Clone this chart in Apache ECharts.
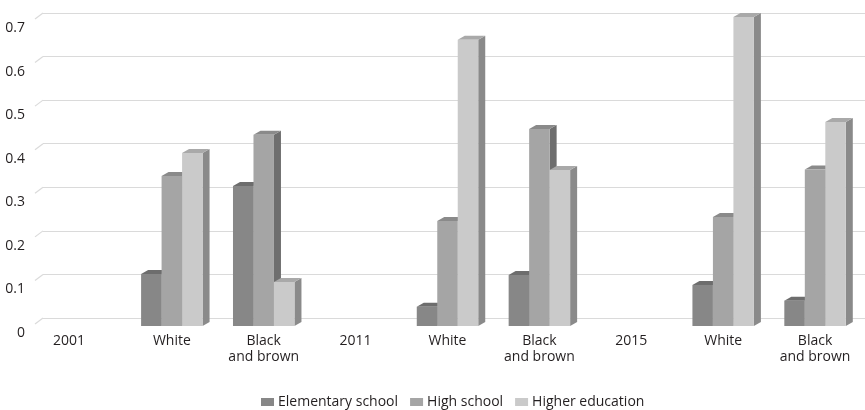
<!DOCTYPE html>
<html>
<head>
<meta charset="utf-8">
<script src="https://cdn.jsdelivr.net/npm/echarts@6/dist/echarts.min.js"></script>
<style>html,body{margin:0;padding:0;background:#fff;}#c{width:865px;height:410px;}</style>
</head>
<body>
<div id="c"></div>
<script>
// ---- data ----
const categories = ['2001', 'White', 'Black\nand brown', '2011', 'White', 'Black\nand brown', '2015', 'White', 'Black\nand brown'];
const seriesNames = ['Elementary school', 'High school', 'Higher education'];
const elementary = [null, 0.110, 0.312, null, 0.035, 0.108, null, 0.085, 0.049];
const highSchool = [null, 0.335, 0.430, null, 0.232, 0.443, null, 0.241, 0.350];
const higherEd   = [null, 0.388, 0.092, null, 0.648, 0.349, null, 0.700, 0.459];
const yTicks = [0, 0.1, 0.2, 0.3, 0.4, 0.5, 0.6, 0.7];

// ---- styles ----
const FONT = 'Open Sans';
const TXT = '#231f20';
const FS = 14;
const faces = [
  { front: '#878787', top: '#6d6d6d', side: '#5f5f5f' },
  { front: '#a5a5a5', top: '#8a8a8a', side: '#6e6e6e' },
  { front: '#cacaca', top: '#a9a9a9', side: '#8a8a8a' }
];
const DX = 7, DY = 4;

function toData(arr) {
  const out = [];
  arr.forEach((v, i) => { if (v != null) out.push([i, v]); });
  return out;
}

function barSeries(name, arr, s) {
  const f = faces[s];
  return {
    name: name,
    type: 'custom',
    xAxisIndex: 0, yAxisIndex: 0,
    itemStyle: { color: f.front },
    data: toData(arr),
    z: 2 + s,
    renderItem: function (params, api) {
      const idx = api.value(0), v = api.value(1);
      const top = api.coord([idx, v]);
      const base = api.coord([idx, 0]);
      const band = api.size([1, 0])[0];
      const bw = band * 0.223;
      const x0 = top[0] - 1.5 * bw + s * bw;
      const yT = top[1], yB = base[1] + 4;
      return {
        type: 'group',
        children: [
          { type: 'polygon', shape: { points: [[x0 + bw, yT], [x0 + bw + DX, yT - DY], [x0 + bw + DX, yB - DY], [x0 + bw, yB]] }, style: { fill: f.side } },
          { type: 'polygon', shape: { points: [[x0, yT], [x0 + DX, yT - DY], [x0 + bw + DX, yT - DY], [x0 + bw, yT]] }, style: { fill: f.top } },
          { type: 'rect', shape: { x: x0, y: yT, width: bw, height: yB - yT }, style: { fill: f.front } }
        ]
      };
    }
  };
}

const chart = echarts.init(document.getElementById('c'), null, { renderer: 'canvas' });
chart.setOption({
  animation: false,
  backgroundColor: '#ffffff',
  textStyle: { fontFamily: FONT },
  grid: [
    { left: 34, right: 4, top: 17, height: 305 },   // front: bars + categories
    { left: 43, right: 0, top: 13, height: 305 },   // back wall: gridlines
    { left: 35, width: 10, top: 28, height: 305 }   // value labels
  ],
  xAxis: [
    {
      type: 'category', gridIndex: 0, data: categories,
      axisLine: { show: false }, axisTick: { show: false },
      axisLabel: {
        color: TXT, fontSize: FS, fontFamily: FONT, margin: 11, lineHeight: 16, interval: 0,
        formatter: (v, i) => i === 0 ? '{f|' + v + '}' : v,
        rich: { f: { color: TXT, fontSize: FS, fontFamily: FONT, lineHeight: 16, padding: [0, 22, 0, 0] } }
      }
    },
    { type: 'value', gridIndex: 1, min: 0, max: 1, show: false },
    { type: 'value', gridIndex: 2, min: 0, max: 1, show: false }
  ],
  yAxis: [
    { type: 'value', gridIndex: 0, min: 0, max: 0.7, interval: 0.1, show: false },
    {
      type: 'value', gridIndex: 1, min: 0, max: 0.7, interval: 0.1,
      axisLine: { show: false }, axisTick: { show: false }, axisLabel: { show: false },
      splitLine: { show: true, lineStyle: { color: '#dadada', width: 1.2 } }
    },
    {
      type: 'value', gridIndex: 2, min: 0, max: 0.7, interval: 0.1,
      axisLine: { show: false }, axisTick: { show: false }, splitLine: { show: false },
      axisLabel: { color: TXT, fontSize: FS, fontFamily: FONT, margin: 10, formatter: v => String(+v.toFixed(1)) }
    }
  ],
  legend: {
    data: seriesNames,
    left: 256, top: 390,
    itemWidth: 13, itemHeight: 8, itemGap: 12,
    icon: 'rect',
    textStyle: { color: TXT, fontSize: FS, fontFamily: FONT, padding: [0, 0, 0, -1] }
  },
  series: [
    {
      type: 'custom', name: 'wall', xAxisIndex: 1, yAxisIndex: 1, silent: true, z: 1,
      data: yTicks.map(v => [0, v]),
      renderItem: function (params, api) {
        const p = api.coord([0, api.value(1)]);
        return { type: 'line', shape: { x1: p[0] - 8, y1: p[1] + 6, x2: p[0], y2: p[1] }, style: { stroke: '#dadada', lineWidth: 1.2 } };
      }
    },
    barSeries(seriesNames[0], elementary, 0),
    barSeries(seriesNames[1], highSchool, 1),
    barSeries(seriesNames[2], higherEd, 2)
  ]
});
</script>
</body>
</html>
